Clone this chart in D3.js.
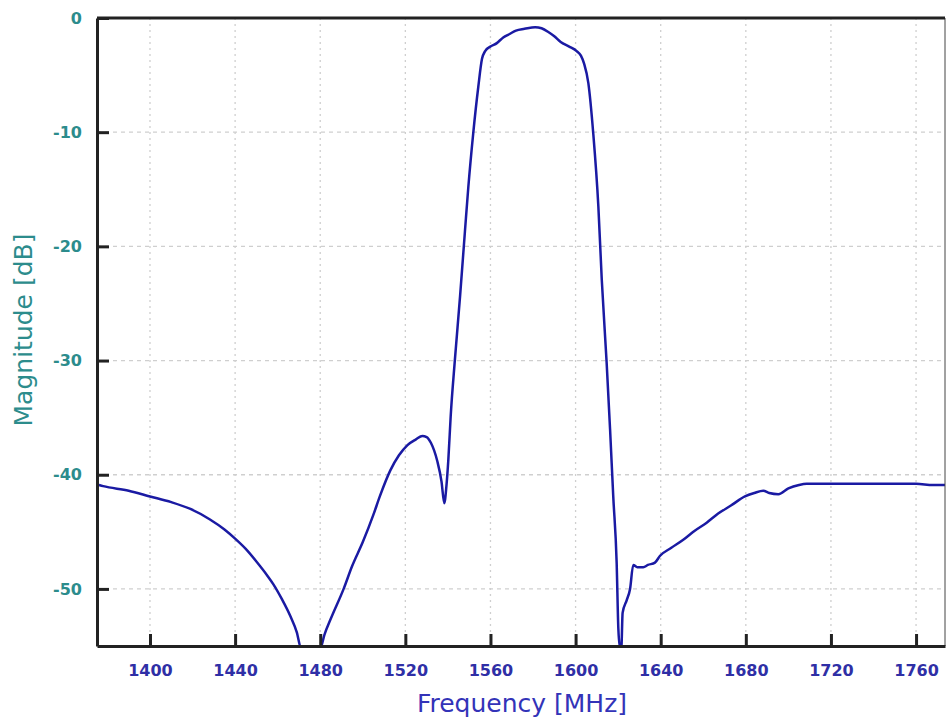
<!DOCTYPE html>
<html>
<head>
<meta charset="utf-8">
<script src="https://cdn.jsdelivr.net/npm/d3@7"></script>
<style>
  body { margin: 0; background: #fff; }
  svg { display: block; font-family: "DejaVu Sans", Verdana, sans-serif; }
</style>
</head>
<body>
<div id="chart"></div>
<script>
// frequency [MHz] and magnitude [dB]
var freq = [1376, 1378, 1390, 1400, 1410, 1419, 1428, 1435, 1440, 1445, 1450, 1455, 1458, 1462, 1466, 1469, 1471,
  1480, 1482, 1485, 1491, 1495, 1500, 1505, 1508, 1513, 1517, 1521, 1525, 1528, 1530, 1532, 1535, 1537, 1538.3,
  1539.3, 1540.2, 1541.3, 1543.3, 1545.7, 1548, 1549.6, 1551.9, 1554.3, 1556, 1557.5, 1560, 1563, 1566, 1569,
  1572, 1576, 1581, 1584, 1587, 1590, 1593, 1597, 1600.5, 1602.5, 1604, 1606, 1608.3, 1610.7, 1612.3, 1614.6,
  1616.2, 1617.7, 1619.3, 1620.1, 1620.9, 1621.5, 1622.1, 1624, 1625.6, 1627.1, 1629, 1631.8, 1634, 1637.3,
  1639.7, 1645, 1650.6, 1656, 1661.6, 1667, 1673, 1679.6, 1684, 1688.2, 1691, 1695.3, 1700, 1705, 1708.6,
  1715, 1721.1, 1730, 1740, 1750, 1760, 1768, 1774];
var magnitude = [-40.9, -41.0, -41.4, -41.9, -42.4, -43.0, -43.9, -44.8, -45.6, -46.5, -47.6, -48.8, -49.6, -50.9,
  -52.4, -53.8, -55.2,
  -55.2, -54.0, -52.6, -50.0, -48.0, -45.9, -43.5, -41.9, -39.6, -38.3, -37.4, -36.9, -36.6, -36.7, -37.2, -38.8,
  -40.6, -42.5,
  -41.0, -38.7, -34.9, -29.9, -24.4, -18.7, -14.8, -10.1, -6.0, -3.6, -2.9, -2.5, -2.2, -1.7, -1.4,
  -1.1, -0.95, -0.8, -0.9, -1.2, -1.6, -2.1, -2.5, -2.9, -3.3, -4.0, -5.7, -10.1, -16.5, -22.9, -30.2,
  -36.0, -41.9, -47.7, -53.5, -55.2, -55.2, -52.1, -51.0, -50.0, -47.9, -48.1, -48.1, -47.9, -47.7,
  -47.1, -46.4, -45.7, -44.9, -44.2, -43.4, -42.7, -41.9, -41.6, -41.4, -41.6, -41.7, -41.2, -40.9, -40.8,
  -40.8, -40.8, -40.8, -40.8, -40.8, -40.8, -40.9, -40.9];

var xTicks = [1400, 1440, 1480, 1520, 1560, 1600, 1640, 1680, 1720, 1760];
var yTicks = [0, -10, -20, -30, -40, -50];

var svgWidth = 947;
var svgHeight = 722;

var margin = { top: 18, right: 2, bottom: 76, left: 97 };

var width = svgWidth - margin.left - margin.right;
var height = svgHeight - margin.top - margin.bottom;

var data = freq.map(function(f, i) { return { f: f, m: magnitude[i] }; });

var svg = d3.select("#chart")
    .append("svg")
    .attr("width", svgWidth)
    .attr("height", svgHeight);

var chartGroup = svg.append("g")
    .attr("transform", `translate(${margin.left}, ${margin.top})`);

var xScale = d3.scaleLinear()
    .domain([1375.1, 1773.6])
    .range([0, width]);

var yScale = d3.scaleLinear()
    .domain([-55, 0])
    .range([height, 0]);

// dotted grid
chartGroup.append("g")
    .selectAll("line")
    .data(xTicks)
    .enter()
    .append("line")
    .attr("x1", d => xScale(d))
    .attr("x2", d => xScale(d))
    .attr("y1", 0)
    .attr("y2", height)
    .attr("stroke", "#cfcfcf")
    .attr("stroke-width", 1.3)
    .attr("stroke-dasharray", "2,4");

chartGroup.append("g")
    .selectAll("line")
    .data(yTicks)
    .enter()
    .append("line")
    .attr("x1", 0)
    .attr("x2", width)
    .attr("y1", d => yScale(d))
    .attr("y2", d => yScale(d))
    .attr("stroke", "#cfcfcf")
    .attr("stroke-width", 1.3)
    .attr("stroke-dasharray", "4,4");

// trace, clipped to the plot box
chartGroup.append("clipPath")
    .attr("id", "plotClip")
    .append("rect")
    .attr("width", width)
    .attr("height", height);

var line = d3.line()
    .x(d => xScale(d.f))
    .y(d => yScale(d.m))
    .curve(d3.curveMonotoneX);

chartGroup.append("path")
    .datum(data)
    .attr("clip-path", "url(#plotClip)")
    .attr("fill", "none")
    .attr("stroke", "#1a1aa3")
    .attr("stroke-width", 2.5)
    .attr("stroke-linejoin", "round")
    .attr("d", line);

// frame
chartGroup.append("line")
    .attr("x1", width).attr("x2", width)
    .attr("y1", 0).attr("y2", height)
    .attr("stroke", "#444").attr("stroke-width", 1);
chartGroup.append("line")
    .attr("x1", 0).attr("x2", width)
    .attr("y1", 0).attr("y2", 0)
    .attr("stroke", "#222").attr("stroke-width", 3);

// axes with inward ticks, plain hyphen for negatives
var bottomAxis = d3.axisBottom(xScale)
    .tickValues(xTicks)
    .tickFormat(d => String(d))
    .tickSizeInner(-12)
    .tickSizeOuter(0)
    .tickPadding(19);
var leftAxis = d3.axisLeft(yScale)
    .tickValues(yTicks)
    .tickFormat(d => String(d))
    .tickSizeInner(-12)
    .tickSizeOuter(0)
    .tickPadding(15);

var xAxisG = chartGroup.append("g")
    .attr("transform", `translate(0, ${height})`)
    .call(bottomAxis);
xAxisG.select(".domain").attr("stroke", "#222").attr("stroke-width", 3);
xAxisG.selectAll(".tick line").attr("stroke", "#222").attr("stroke-width", 3);
xAxisG.selectAll(".tick text")
    .attr("fill", "#2f2fa6")
    .attr("font-family", "DejaVu Sans")
    .attr("font-size", 16)
    .attr("font-weight", "bold");

var yAxisG = chartGroup.append("g")
    .call(leftAxis);
yAxisG.select(".domain").attr("stroke", "#222").attr("stroke-width", 3);
yAxisG.selectAll(".tick line").attr("stroke", "#222").attr("stroke-width", 3);
yAxisG.selectAll(".tick text")
    .attr("fill", "#2c8c8c")
    .attr("font-family", "DejaVu Sans")
    .attr("font-size", 16)
    .attr("font-weight", "bold");

// axis titles
chartGroup.append("text")
    .attr("transform", "rotate(-90)")
    .attr("x", 0 - (height / 2) + 2)
    .attr("y", 0 - margin.left + 32)
    .attr("text-anchor", "middle")
    .attr("fill", "#2c8c8c")
    .attr("font-size", 25)
    .text("Magnitude [dB]");

chartGroup.append("text")
    .attr("x", 522 - margin.left)
    .attr("y", height + 66)
    .attr("text-anchor", "middle")
    .attr("fill", "#3333b8")
    .attr("font-size", 25)
    .text("Frequency [MHz]");
</script>
</body>
</html>
